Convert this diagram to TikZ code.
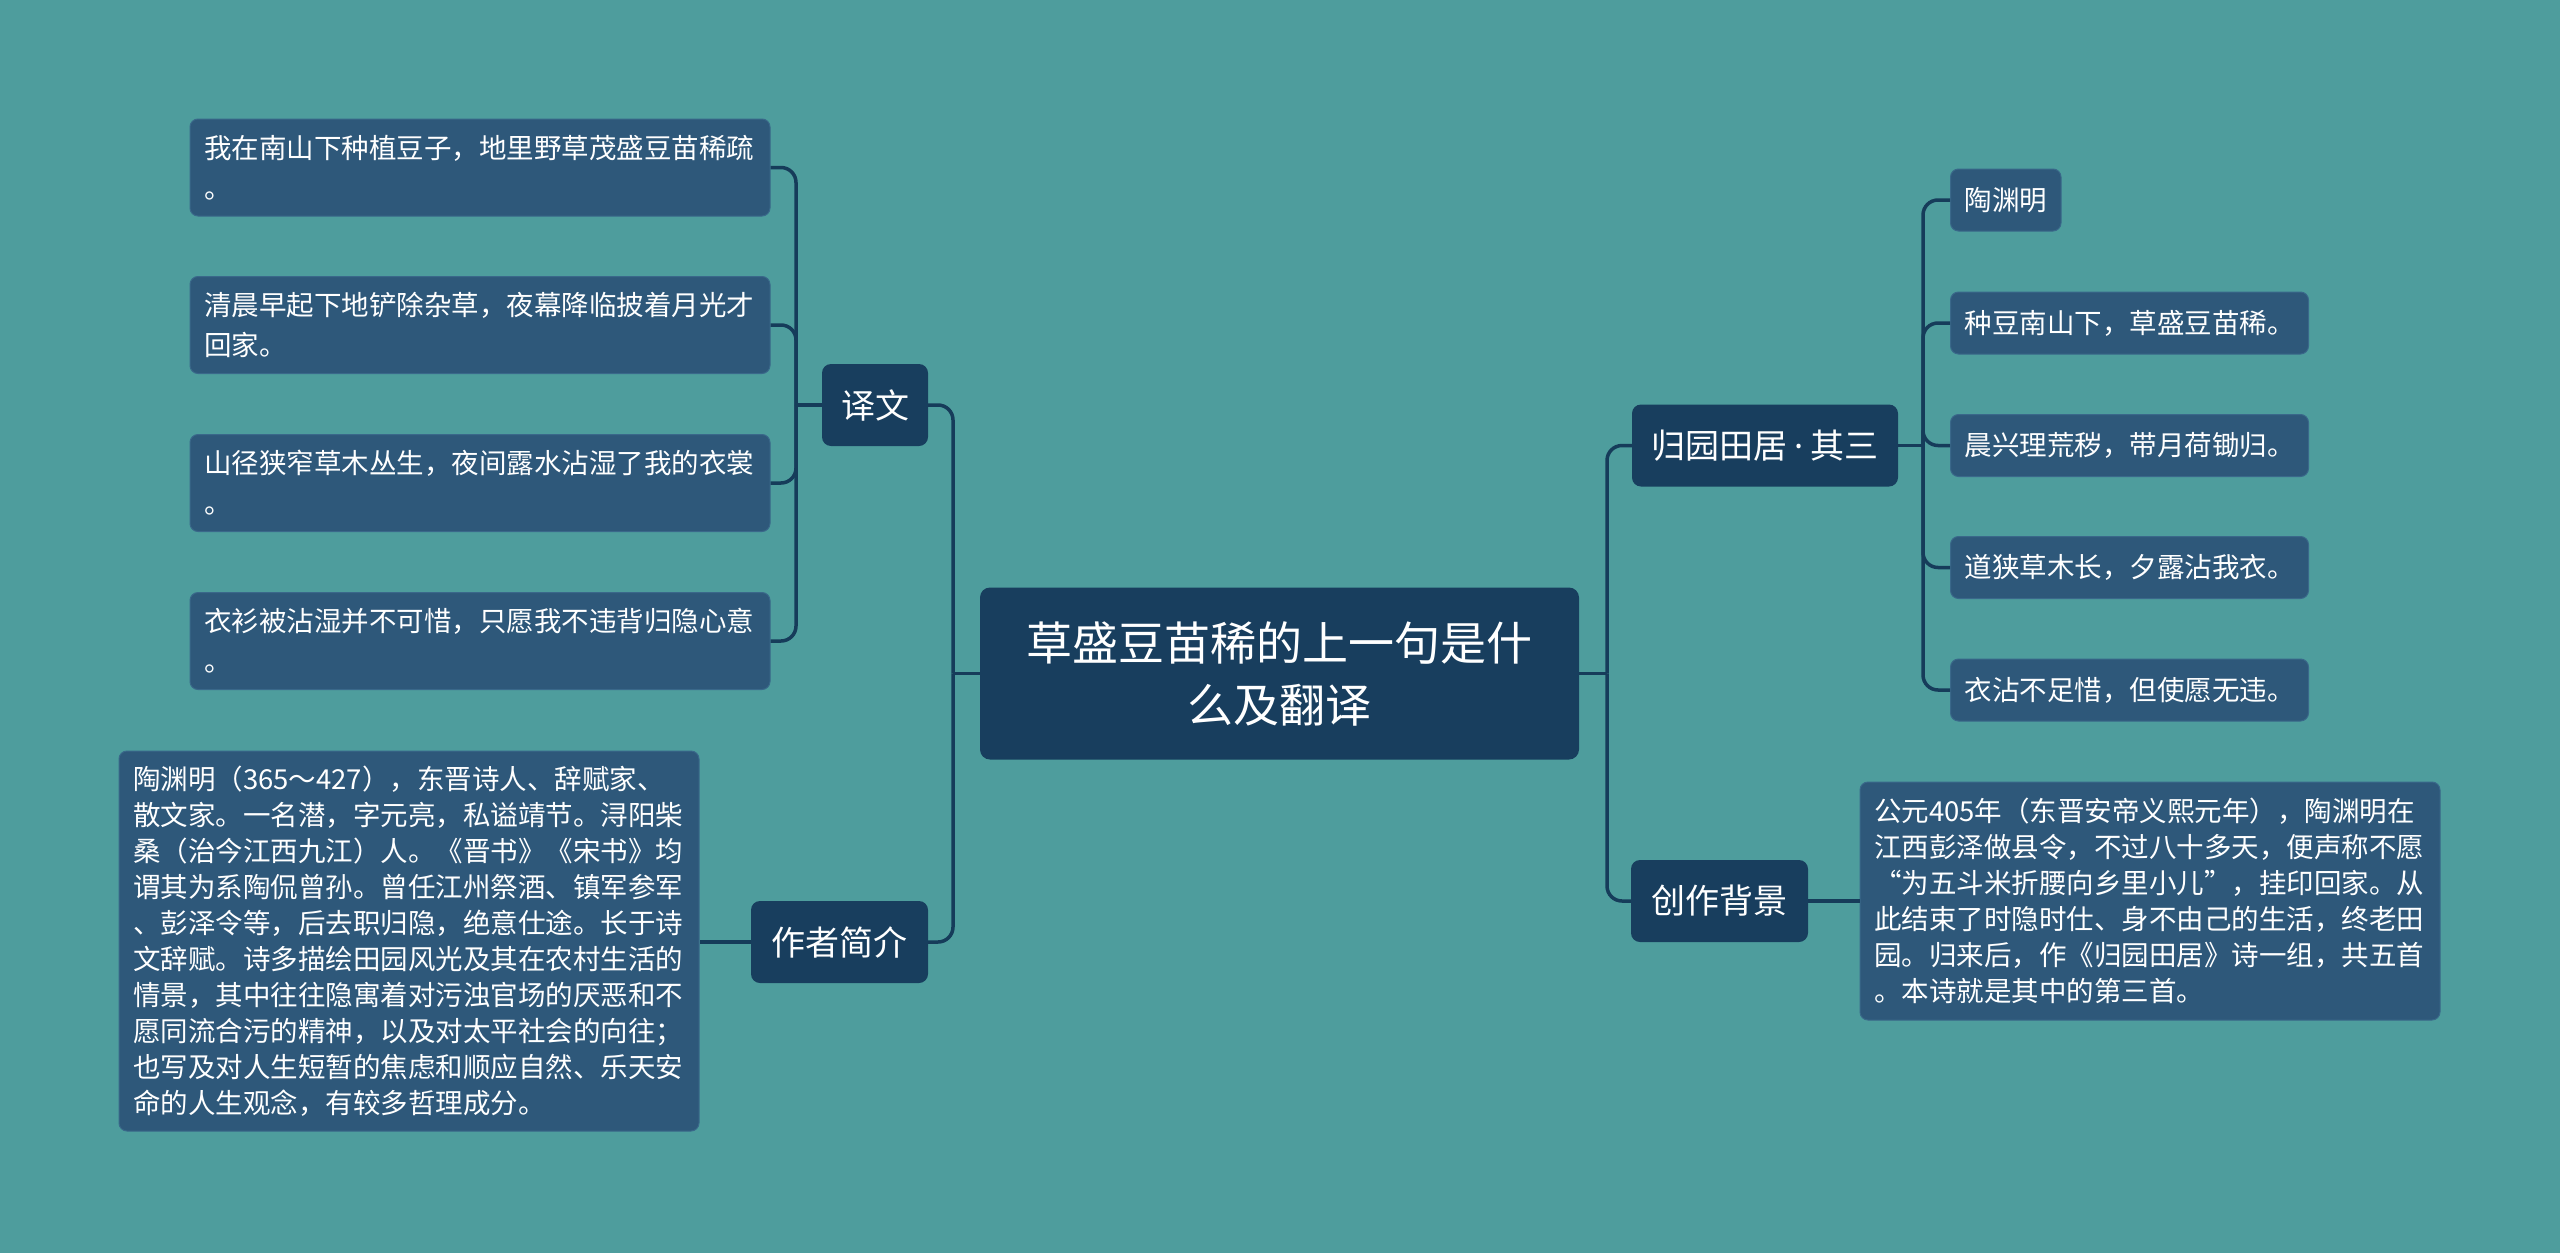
\documentclass[tikz,border=0pt]{standalone}
\usepackage{fontspec}
\setmainfont{Noto Sans CJK SC}
\newfontfamily\latindot{Noto Sans}
\definecolor{bgteal}{RGB}{78,157,157}
\definecolor{topicblue}{RGB}{24,62,94}
\definecolor{leafblue}{RGB}{46,88,122}
\definecolor{leafedge}{RGB}{58,104,138}
\definecolor{linkblue}{RGB}{22,60,90}
\begin{document}
\begin{tikzpicture}[x=1pt, y=-1pt,
  topic/.style={fill=topicblue, text=white, rounded corners=10pt, align=center},
  branch/.style={fill=topicblue, text=white, rounded corners=9pt, minimum height=82pt, font=\fontsize{34}{40}\selectfont},
  leaf/.style={fill=leafblue, draw=leafedge, line width=1pt, text=white, rounded corners=8pt, inner xsep=14pt, align=left, font=\fontsize{27.5}{40}\selectfont},
  link/.style={draw=linkblue, line width=3.5pt, rounded corners=15pt}]
  \fill[bgteal] (0,0) rectangle (2560,1253);
  % centre
  \node[topic, minimum width=599pt, minimum height=172pt, font=\fontsize{46}{62}\selectfont] (root) at (1279.5,673.5) {草盛豆苗稀的上一句是什\\么及翻译};
  % left side
  \node[branch, minimum width=106pt] (yiwen) at (875,405) {译文};
  \node[branch, minimum width=177pt] (zuozhe) at (839.5,942) {作者简介};
  \node[leaf, text width=552pt, minimum height=97pt] (l1) at (480,167.5) {我在南山下种植豆子，地里野草茂盛豆苗稀疏\\。};
  \node[leaf, text width=552pt, minimum height=97pt] (l2) at (480,325) {清晨早起下地铲除杂草，夜幕降临披着月光才\\回家。};
  \node[leaf, text width=552pt, minimum height=97pt] (l3) at (480,483) {山径狭窄草木丛生，夜间露水沾湿了我的衣裳\\。};
  \node[leaf, text width=552pt, minimum height=97pt] (l4) at (480,641) {衣衫被沾湿并不可惜，只愿我不违背归隐心意\\。};
  \node[leaf, text width=552pt, minimum height=380pt, font=\fontsize{27.5}{36}\selectfont] (author) at (409,941) {陶渊明（365～427），东晋诗人、辞赋家、\\散文家。一名潜，字元亮，私谥靖节。浔阳柴\\桑（治今江西九江）人。《晋书》《宋书》均\\谓其为系陶侃曾孙。曾任江州祭酒、镇军参军\\、彭泽令等，后去职归隐，绝意仕途。长于诗\\文辞赋。诗多描绘田园风光及其在农村生活的\\情景，其中往往隐寓着对污浊官场的厌恶和不\\愿同流合污的精神，以及对太平社会的向往；\\也写及对人生短暂的焦虑和顺应自然、乐天安\\命的人生观念，有较多哲理成分。};
  % right side
  \node[branch, minimum width=266pt] (guiyuan) at (1765,445.5) {归园田居{\latindot\kern7pt·\kern7pt}其三};
  \node[branch, minimum width=177pt] (beijing) at (1719.5,901) {创作背景};
  \node[leaf, anchor=west, minimum height=62pt] (r1) at (1950,200) {陶渊明};
  \node[leaf, anchor=west, minimum height=62pt] (r2) at (1950,323) {种豆南山下，草盛豆苗稀。};
  \node[leaf, anchor=west, minimum height=62pt] (r3) at (1950,445.5) {晨兴理荒秽，带月荷锄归。};
  \node[leaf, anchor=west, minimum height=62pt] (r4) at (1950,567.5) {道狭草木长，夕露沾我衣。};
  \node[leaf, anchor=west, minimum height=62pt] (r5) at (1950,690) {衣沾不足惜，但使愿无违。};
  \node[leaf, text width=552pt, minimum height=238pt, font=\fontsize{27.5}{36}\selectfont] (bgtext) at (2150,901) {公元405年（东晋安帝义熙元年），陶渊明在\\江西彭泽做县令，不过八十多天，便声称不愿\\“为五斗米折腰向乡里小儿”，挂印回家。从\\此结束了时隐时仕、身不由己的生活，终老田\\园。归来后，作《归园田居》诗一组，共五首\\。本诗就是其中的第三首。};
  % connectors
  \coordinate (lbus) at (953,673.5);
  \coordinate (ybus) at (796,405);
  \coordinate (rbus) at (1607,673.5);
  \coordinate (gbus) at (1923,445.5);
  \draw[link] (root.west) -- (lbus);
  \draw[link] (lbus) |- (yiwen.east);
  \draw[link] (lbus) |- (zuozhe.east);
  \draw[link] (yiwen.west) -- (ybus);
  \foreach \n in {l1,l2,l3,l4}
    \draw[link] (ybus) |- (\n.east);
  \draw[link] (zuozhe.west) -- (zuozhe.west -| author.east);
  \draw[link] (root.east) -- (rbus);
  \draw[link] (rbus) |- (guiyuan.west);
  \draw[link] (rbus) |- (beijing.west);
  \draw[link] (guiyuan.east) -- (gbus);
  \foreach \n in {r1,r2,r3,r4,r5}
    \draw[link] (gbus) |- (\n.west);
  \draw[link] (beijing.east) -- (beijing.east -| bgtext.west);
\end{tikzpicture}
\end{document}
